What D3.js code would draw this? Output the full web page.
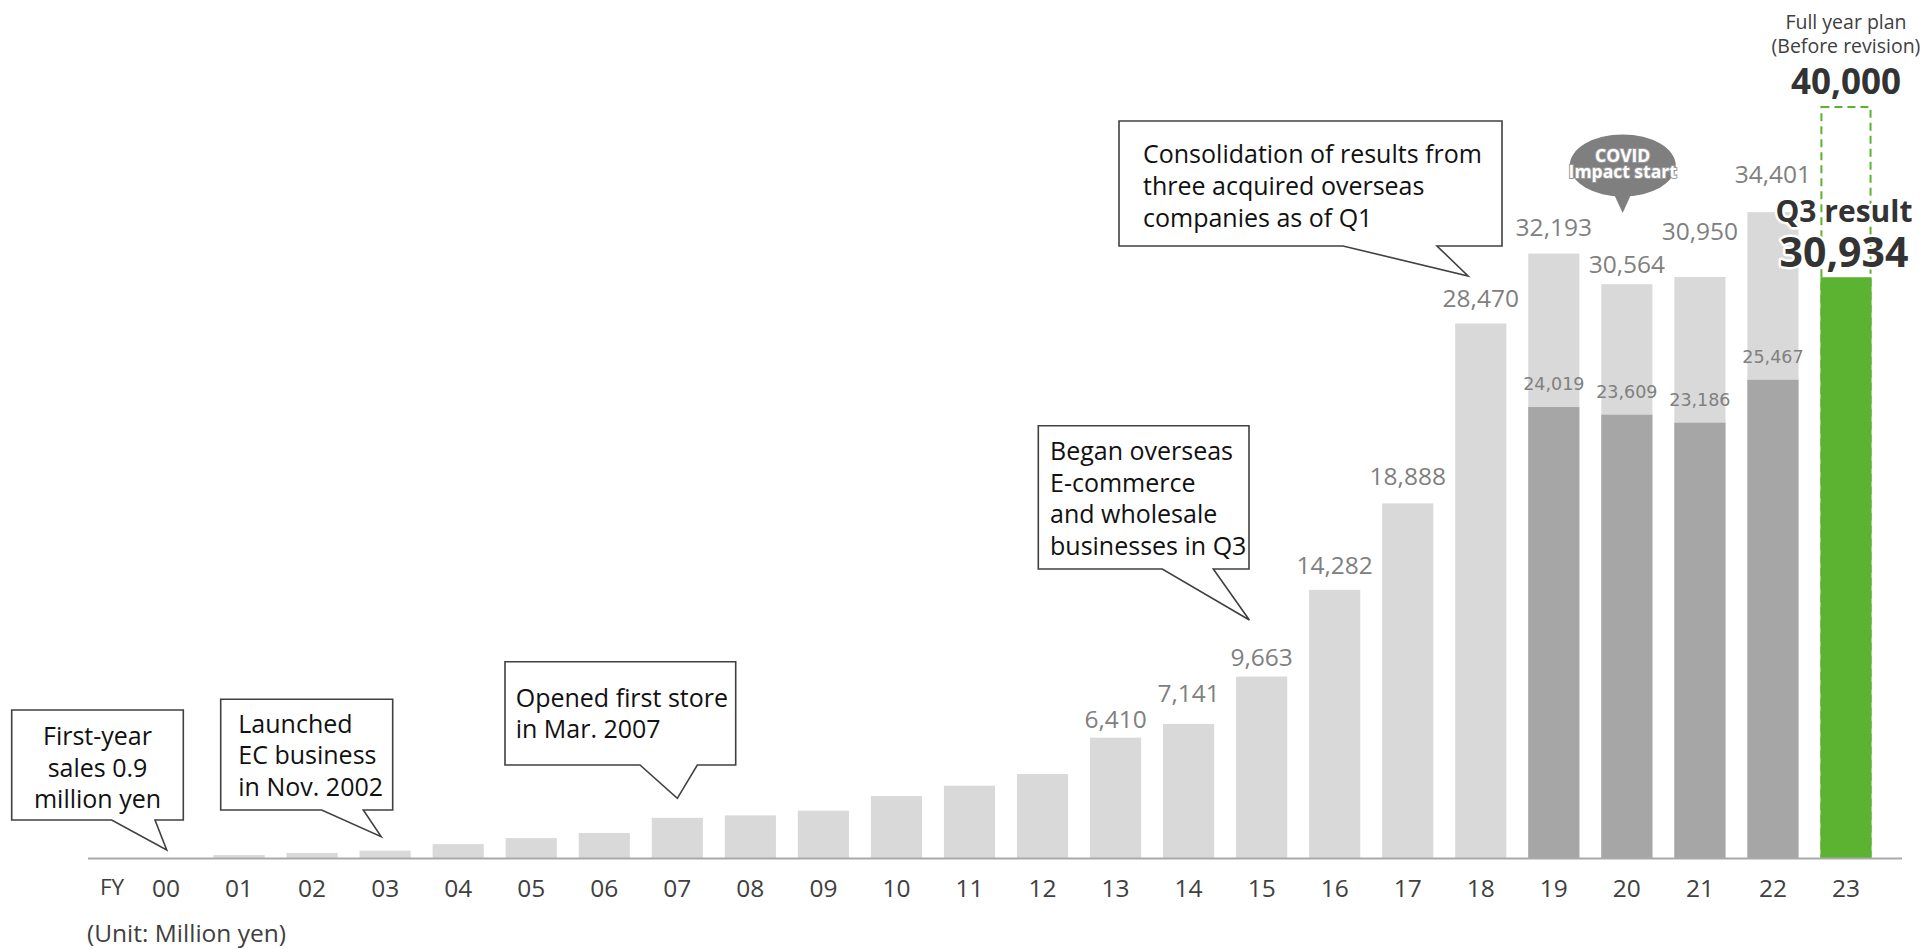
<!DOCTYPE html>
<html>
<head>
<meta charset="utf-8">
<script src="https://cdn.jsdelivr.net/npm/d3@7"></script>
<style>
  html, body { margin: 0; padding: 0; background: #fff; }
  svg { display: block; font-family: "Open Sans", "Noto Sans", sans-serif; }
</style>
</head>
<body>
<svg id="chart" width="1924" height="949"></svg>
<script>
// Net sales by fiscal year (million yen)
const fiscalYears = ['00','01','02','03','04','05','06','07','08','09','10','11',
                     '12','13','14','15','16','17','18','19','20','21','22','23'];
const annualSales = [0.9, 160, 270, 390, 740, 1060, 1330, 2140, 2270, 2520, 3300, 3850,
                     4470, 6410, 7141, 9663, 14282, 18888, 28470, 32193, 30564, 30950, 34401, 30934];
// Years whose totals are printed above the bar
const labeledYears = ['13','14','15','16','17','18','19','20','21','22'];
// Sales excluding the acquired overseas companies
const coreYears = ['19','20','21','22'];
const coreSales = [24019, 23609, 23186, 25467];
// Current fiscal year
const currentYear = '23';
const q3Result = 30934;
const fullYearPlan = 40000;

const svg = d3.select('#chart');
const fmt = d3.format(',');
const FONT = '"Open Sans", "Noto Sans", sans-serif';

const x = d3.scaleBand()
  .domain(fiscalYears)
  .range([129.5, 1882.5])
  .paddingInner(0.3)
  .paddingOuter(0.15);
const y = d3.scaleLinear().domain([0, 40000]).range([858, 107]);
const cx = fy => x(fy) + x.bandwidth() / 2;

const records = fiscalYears.map((fy, i) => ({ fy, v: annualSales[i] }));
const past = records.filter(d => d.fy !== currentYear);

// --- bars: completed years
svg.append('g').selectAll('rect').data(past).join('rect')
  .attr('x', d => x(d.fy))
  .attr('width', x.bandwidth())
  .attr('y', d => y(d.v))
  .attr('height', d => y(0) - y(d.v))
  .attr('fill', '#d9d9d9');

// --- bars: sales excluding acquired companies
const core = coreYears.map((fy, i) => ({ fy, v: coreSales[i] }));
svg.append('g').selectAll('rect').data(core).join('rect')
  .attr('x', d => x(d.fy))
  .attr('width', x.bandwidth())
  .attr('y', d => y(d.v))
  .attr('height', d => y(0) - y(d.v))
  .attr('fill', '#a6a6a6');

// --- current year: Q3 result and full-year plan outline
svg.append('rect')
  .attr('x', x(currentYear)).attr('width', x.bandwidth())
  .attr('y', y(q3Result)).attr('height', y(0) - y(q3Result))
  .attr('fill', '#5cb332');
svg.append('rect')
  .attr('x', x(currentYear) + 1).attr('width', x.bandwidth() - 2)
  .attr('y', y(fullYearPlan)).attr('height', y(0) - y(fullYearPlan))
  .attr('fill', 'none')
  .attr('stroke', '#5cb332')
  .attr('stroke-width', 2)
  .attr('stroke-dasharray', '8 5');

// --- baseline
svg.append('line')
  .attr('x1', 88).attr('x2', 1902)
  .attr('y1', 858.5).attr('y2', 858.5)
  .attr('stroke', '#a9a9a9').attr('stroke-width', 2);

// --- x axis labels
const xAxis = svg.append('g')
  .attr('transform', 'translate(0,858)')
  .call(d3.axisBottom(x).tickSize(0).tickPadding(0));
xAxis.select('.domain').remove();
xAxis.selectAll('text')
  .attr('y', 39).attr('dy', null)
  .attr('font-size', 24.5)
  .attr('font-family', FONT)
  .attr('fill', '#404040');

svg.append('text')
  .attr('x', 112).attr('y', 895)
  .attr('text-anchor', 'middle')
  .attr('font-size', 22.5).attr('fill', '#404040')
  .text('FY');

svg.append('text')
  .attr('x', 87).attr('y', 942)
  .attr('font-size', 24.5).attr('fill', '#404040')
  .text('(Unit: Million yen)');

// --- total value labels
const labelGap = { '13': 10, '14': 22, '15': 11, '16': 16, '17': 18,
                   '18': 16, '19': 18, '20': 11, '21': 37, '22': 29 };
svg.append('g').selectAll('text')
  .data(records.filter(d => labeledYears.includes(d.fy)))
  .join('text')
  .attr('x', d => cx(d.fy))
  .attr('y', d => y(d.v) - labelGap[d.fy])
  .attr('text-anchor', 'middle')
  .attr('font-size', 24.5)
  .attr('fill', '#808080')
  .text(d => fmt(d.v));

// --- core sales labels
svg.append('g').selectAll('text').data(core).join('text')
  .attr('x', d => cx(d.fy))
  .attr('y', d => y(d.v) - 17)
  .attr('text-anchor', 'middle')
  .attr('font-family', '"DejaVu Sans", Verdana, sans-serif')
  .attr('font-size', 17.5)
  .attr('fill', '#808080')
  .text(d => fmt(d.v));

// --- callouts
const valueOf = fy => annualSales[fiscalYears.indexOf(fy)];
const callouts = [
  { lines: ['First-year', 'sales 0.9', 'million yen'], box: [11.7, 710, 183.3, 820],
    tail: [111.7, 155], fy: '00', dx: 0.7, dy: 8, anchor: 'middle', tx: 97.5, ty: 745 },
  { lines: ['Launched', 'EC business', 'in Nov. 2002'], box: [220.7, 699.3, 392.7, 810],
    tail: [321.7, 363.3], fy: '03', dx: -4, dy: 14, anchor: 'start', tx: 238.3, ty: 732.7 },
  { lines: ['Opened first store', 'in Mar. 2007'], box: [505, 661.7, 735.7, 765],
    tail: [640, 697.3], fy: '07', dx: 0, dy: 19.5, anchor: 'start', tx: 515.7, ty: 706.7 },
  { lines: ['Began overseas', 'E-commerce', 'and wholesale', 'businesses in Q3'],
    box: [1038.3, 425.7, 1249, 569], tail: [1162.3, 1213.3], fy: '15', dx: -12.3, dy: 56.6,
    anchor: 'start', tx: 1050, ty: 460 },
  { lines: ['Consolidation of results from', 'three acquired overseas', 'companies as of Q1'],
    box: [1119, 121, 1502, 246], tail: [1343, 1437], fy: '18', dx: -12.7, dy: 47.5,
    anchor: 'start', tx: 1143, ty: 163.3 }
];
const lineH = 31.7;
const cg = svg.append('g');
callouts.forEach(c => {
  const [x0, y0, x1, y1] = c.box;
  const tipX = cx(c.fy) + c.dx;
  const tipY = y(valueOf(c.fy)) - c.dy;
  const p = d3.path();
  p.moveTo(x0, y0); p.lineTo(x1, y0); p.lineTo(x1, y1);
  p.lineTo(c.tail[1], y1); p.lineTo(tipX, tipY); p.lineTo(c.tail[0], y1);
  p.lineTo(x0, y1); p.closePath();
  cg.append('path').attr('d', p.toString())
    .attr('fill', '#fff').attr('stroke', '#404040').attr('stroke-width', 1.6)
    .attr('stroke-linejoin', 'miter');
  const t = cg.append('text')
    .attr('text-anchor', c.anchor)
    .attr('font-size', 25).attr('fill', '#111');
  c.lines.forEach((ln, i) => {
    t.append('tspan').attr('x', c.tx).attr('y', c.ty + i * lineH).text(ln);
  });
});

// --- COVID bubble
const bub = svg.append('g');
bub.append('path')
  .attr('d', 'M1612,190 L1633,190 L1622.7,213 Z')
  .attr('fill', '#7f7f7f');
bub.append('ellipse')
  .attr('cx', 1622.7).attr('cy', 165.5).attr('rx', 53).attr('ry', 31)
  .attr('fill', '#7f7f7f');
bub.append('text')
  .attr('x', 1622.7).attr('text-anchor', 'middle')
  .attr('font-size', 17.5).attr('font-weight', 700).attr('fill', '#fff')
  .attr('stroke', '#9a9a9a').attr('stroke-width', 2).attr('paint-order', 'stroke')
  .selectAll('tspan').data(['COVID', 'Impact start']).join('tspan')
  .attr('x', 1622.7).attr('y', (d, i) => 161.7 + i * 16.6)
  .text(d => d);

// --- current-year annotations
const planX = cx(currentYear);
svg.append('text')
  .attr('text-anchor', 'middle').attr('font-size', 19.5).attr('fill', '#404040')
  .selectAll('tspan').data(['Full year plan', '(Before revision)']).join('tspan')
  .attr('x', planX).attr('y', (d, i) => 29.3 + i * 24)
  .text(d => d);

svg.append('text')
  .attr('x', planX).attr('y', 94.3)
  .attr('text-anchor', 'middle')
  .attr('font-size', 35).attr('font-weight', 700).attr('fill', '#333')
  .text(fmt(fullYearPlan));

const haloText = (txt, yy, size) => svg.append('text')
  .attr('x', planX - 2).attr('y', yy)
  .attr('text-anchor', 'middle')
  .attr('font-size', size).attr('font-weight', 700).attr('fill', '#333')
  .attr('stroke', '#fff').attr('stroke-width', 5).attr('paint-order', 'stroke')
  .attr('stroke-linejoin', 'round')
  .text(txt);
haloText('Q3 result', 221.7, 30);
haloText(fmt(q3Result), 266.7, 41);
</script>
</body>
</html>
